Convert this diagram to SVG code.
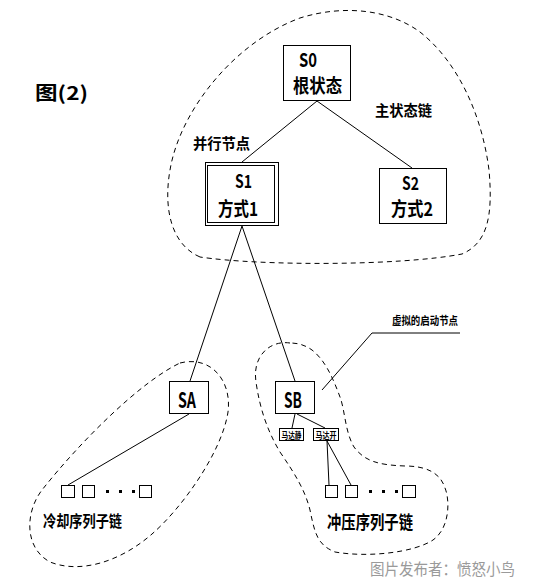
<svg xmlns="http://www.w3.org/2000/svg" width="535" height="584" viewBox="0 0 535 584">
<style>
.bg{fill:#fff}
.box{fill:#fff;stroke:#000;stroke-width:1}
.ln{fill:none;stroke:#000;stroke-width:1}
.dash{fill:none;stroke:#000;stroke-width:1;stroke-dasharray:5,4}
.t{font-family:"Noto Sans CJK SC","Liberation Sans",sans-serif;font-weight:bold;fill:#000}
.wm{font-family:"Noto Sans CJK SC",sans-serif;fill:#9a9a9a;font-size:16px}
</style>
<rect class="bg" x="0" y="0" width="535" height="584"/>
<g id="regions">
<path class="dash" d="M200,257 C172,245 163,210 170,170 C180,110 235,42 300,18 C345,4 390,10 420,32 C458,62 482,115 489,170 C493,215 488,243 462,254 C400,266 260,266 200,257 Z"/>
<path class="dash" d="M180,363 C212,355 232,382 228,412 C222,452 182,508 152,534 C120,562 80,574 50,562 C24,548 25,512 42,490 C80,442 140,382 180,363 Z"/>
<path class="dash" d="M290,343 C270,340 252,356 256,382 C260,410 268,432 280,452 C295,474 305,490 310,510 C315,535 318,545 335,552 C370,558 415,552 433,540 C450,528 450,500 445,488 C440,472 425,466 405,466 C380,465 365,462 354,447 C345,432 345,410 340,397 C333,378 325,360 312,350 C305,345 298,343 290,343 Z"/>
</g>
<g id="connectors">
<line class="ln" x1="317" y1="101" x2="242" y2="162"/>
<line class="ln" x1="317" y1="101" x2="412" y2="168"/>
<line class="ln" x1="242" y1="226" x2="190" y2="381"/>
<line class="ln" x1="242" y1="226" x2="295" y2="381"/>
<line class="ln" x1="189" y1="414" x2="68" y2="485"/>
<line class="ln" x1="295" y1="414" x2="292" y2="428"/>
<line class="ln" x1="297" y1="414" x2="325" y2="428"/>
<line class="ln" x1="327" y1="441" x2="329" y2="485"/>
<line class="ln" x1="327" y1="441" x2="351" y2="485"/>
<polyline class="ln" points="460,333 372,333 322,390"/>
</g>
<g id="S0">
<rect class="box" x="283.5" y="45.5" width="67" height="55"/>
<text class="t" x="299" y="67" font-size="19" textLength="18" lengthAdjust="spacingAndGlyphs">S0</text>
<text class="t" x="293" y="93" font-size="19" textLength="49" lengthAdjust="spacingAndGlyphs">根状态</text>
</g>
<g id="S1">
<rect class="box" x="205.5" y="162.5" width="73" height="63"/>
<rect class="box" x="207.5" y="165.5" width="67" height="57"/>
<text class="t" x="235" y="188" font-size="18" textLength="17" lengthAdjust="spacingAndGlyphs">S1</text>
<text class="t" x="218" y="216" font-size="19" textLength="40" lengthAdjust="spacingAndGlyphs">方式1</text>
</g>
<g id="S2">
<rect class="box" x="379.5" y="168.5" width="67" height="55"/>
<text class="t" x="402" y="190" font-size="18" textLength="17" lengthAdjust="spacingAndGlyphs">S2</text>
<text class="t" x="391" y="216" font-size="19" textLength="42" lengthAdjust="spacingAndGlyphs">方式2</text>
</g>
<g id="SA">
<rect class="box" x="169.5" y="381.5" width="39" height="32"/>
<text class="t" x="178" y="408" font-size="21" textLength="18" lengthAdjust="spacingAndGlyphs">SA</text>
</g>
<g id="SB">
<rect class="box" x="275.5" y="381.5" width="39" height="32"/>
<text class="t" x="284" y="408" font-size="21" textLength="18" lengthAdjust="spacingAndGlyphs">SB</text>
</g>
<g id="motor-still">
<rect class="box" x="279.5" y="428.5" width="24" height="12"/>
<text class="t" x="281.5" y="438.5" font-size="9" textLength="20" lengthAdjust="spacingAndGlyphs">马达静</text>
</g>
<g id="motor-on">
<rect class="box" x="313.5" y="428.5" width="25" height="12"/>
<text class="t" x="315.5" y="438.5" font-size="9" textLength="21" lengthAdjust="spacingAndGlyphs">马达开</text>
</g>
<g id="cool-chain">
<rect class="box" x="61.5" y="485.5" width="13" height="12"/>
<rect class="box" x="82.5" y="485.5" width="12" height="12"/>
<rect x="106" y="490" width="3" height="3" fill="#000"/>
<rect x="119" y="490" width="3" height="3" fill="#000"/>
<rect x="132" y="490" width="3" height="3" fill="#000"/>
<rect class="box" x="139.5" y="485.5" width="12" height="12"/>
<text class="t" x="43" y="527" font-size="16" textLength="79" lengthAdjust="spacingAndGlyphs">冷却序列子链</text>
</g>
<g id="press-chain">
<rect class="box" x="325.5" y="485.5" width="12" height="12"/>
<rect class="box" x="345.5" y="485.5" width="12" height="12"/>
<rect x="369" y="490" width="3" height="3" fill="#000"/>
<rect x="382" y="490" width="3" height="3" fill="#000"/>
<rect x="395" y="490" width="3" height="3" fill="#000"/>
<rect class="box" x="402.5" y="485.5" width="13" height="12"/>
<text class="t" x="327" y="529" font-size="18" textLength="86" lengthAdjust="spacingAndGlyphs">冲压序列子链</text>
</g>
<g id="labels">
<text class="t" x="35" y="100" font-size="19" textLength="53" lengthAdjust="spacingAndGlyphs">图(2)</text>
<text class="t" x="193" y="149" font-size="15" textLength="57" lengthAdjust="spacingAndGlyphs">并行节点</text>
<text class="t" x="375" y="116" font-size="15" textLength="57" lengthAdjust="spacingAndGlyphs">主状态链</text>
<text class="t" x="392" y="325" font-size="11" textLength="66" lengthAdjust="spacingAndGlyphs">虚拟的启动节点</text>
<text class="wm" x="370" y="575" textLength="145" lengthAdjust="spacingAndGlyphs">图片发布者：愤怒小鸟</text>
</g>
</svg>
